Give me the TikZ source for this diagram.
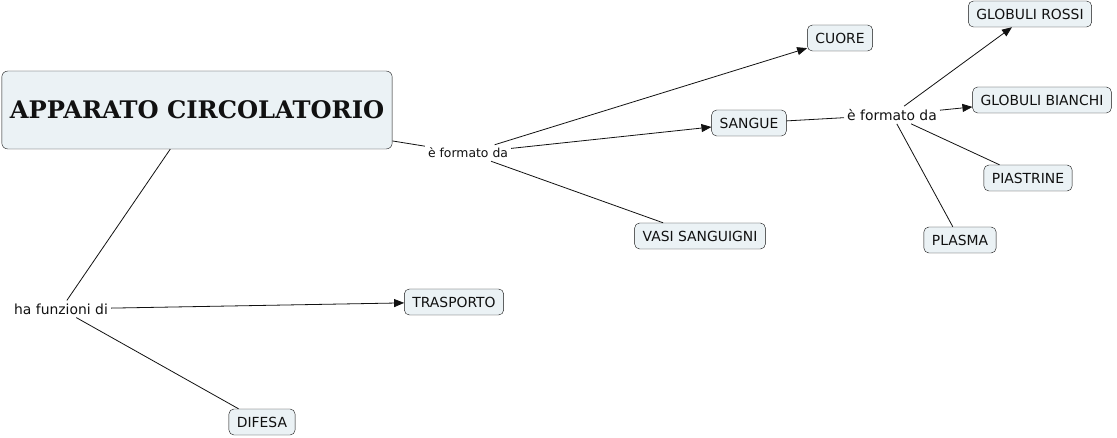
\documentclass[tikz,border=0pt]{standalone}
\usepackage{fontspec}
\setmainfont{DejaVu Sans}
\newfontfamily\titlefont{DejaVu Serif}
\usetikzlibrary{arrows.meta}
\definecolor{mapfill}{HTML}{EBF2F5}
\definecolor{mapfg}{HTML}{111111}

\begin{document}
\begin{tikzpicture}[x=1pt,y=-1pt,>={Triangle[length=10pt,width=8pt]},font=\fontsize{13.9}{15}\selectfont]
  \tikzstyle{concept}=[draw=mapfg, rounded corners=5pt, fill=mapfill, inner xsep=8pt, minimum height=26pt, text=mapfg]
  \tikzstyle{topic}=[concept, rounded corners=6pt, minimum width=390pt, minimum height=78pt, font=\titlefont\bfseries\fontsize{24.2}{26}\selectfont]
  \tikzstyle{linkphrase}=[inner sep=3pt, text=mapfg]
  \tikzstyle{smalllink}=[linkphrase, font=\fontsize{12.4}{14}\selectfont]
  \tikzstyle{line}=[draw=mapfg, line width=0.8pt]
  \tikzstyle{arrow}=[line, ->]

  \path[use as bounding box] (0,0) rectangle (1117,438);

  % main concept
  \node[topic] (apparato) at (197,110) {APPARATO CIRCOLATORIO};

  % composition
  \node[smalllink] (formato) at (468,153) {è formato da};
  \node[concept] (cuore) at (840,38) {CUORE};
  \node[concept] (sangue) at (749,123) {SANGUE};
  \node[concept] (vasi) at (700,236) {VASI SANGUIGNI};

  \draw[line] (apparato) -- (formato);
  \draw[arrow] (formato) -- (cuore);
  \draw[arrow] (formato) -- (sangue);
  \draw[line] (formato) -- (vasi);

  % blood
  \node[linkphrase] (formatosangue) at (892,115) {è formato da};
  \node[concept] (rossi) at (1030,14) {GLOBULI ROSSI};
  \node[concept] (bianchi) at (1042,100) {GLOBULI BIANCHI};
  \node[concept] (piastrine) at (1028,178) {PIASTRINE};
  \node[concept] (plasma) at (960,240) {PLASMA};

  \draw[line] (sangue) -- (formatosangue);
  \draw[arrow] (formatosangue) -- (rossi);
  \draw[arrow] (formatosangue) -- (bianchi);
  \draw[line] (formatosangue) -- (piastrine);
  \draw[line] (formatosangue) -- (plasma);

  % functions
  \node[linkphrase] (funzioni) at (61,309) {ha funzioni di};
  \node[concept] (trasporto) at (454,302) {TRASPORTO};
  \node[concept] (difesa) at (262,422) {DIFESA};

  \draw[line] (apparato) -- (funzioni);
  \draw[arrow] (funzioni) -- (trasporto);
  \draw[line] (funzioni) -- (difesa);
\end{tikzpicture}
\end{document}
